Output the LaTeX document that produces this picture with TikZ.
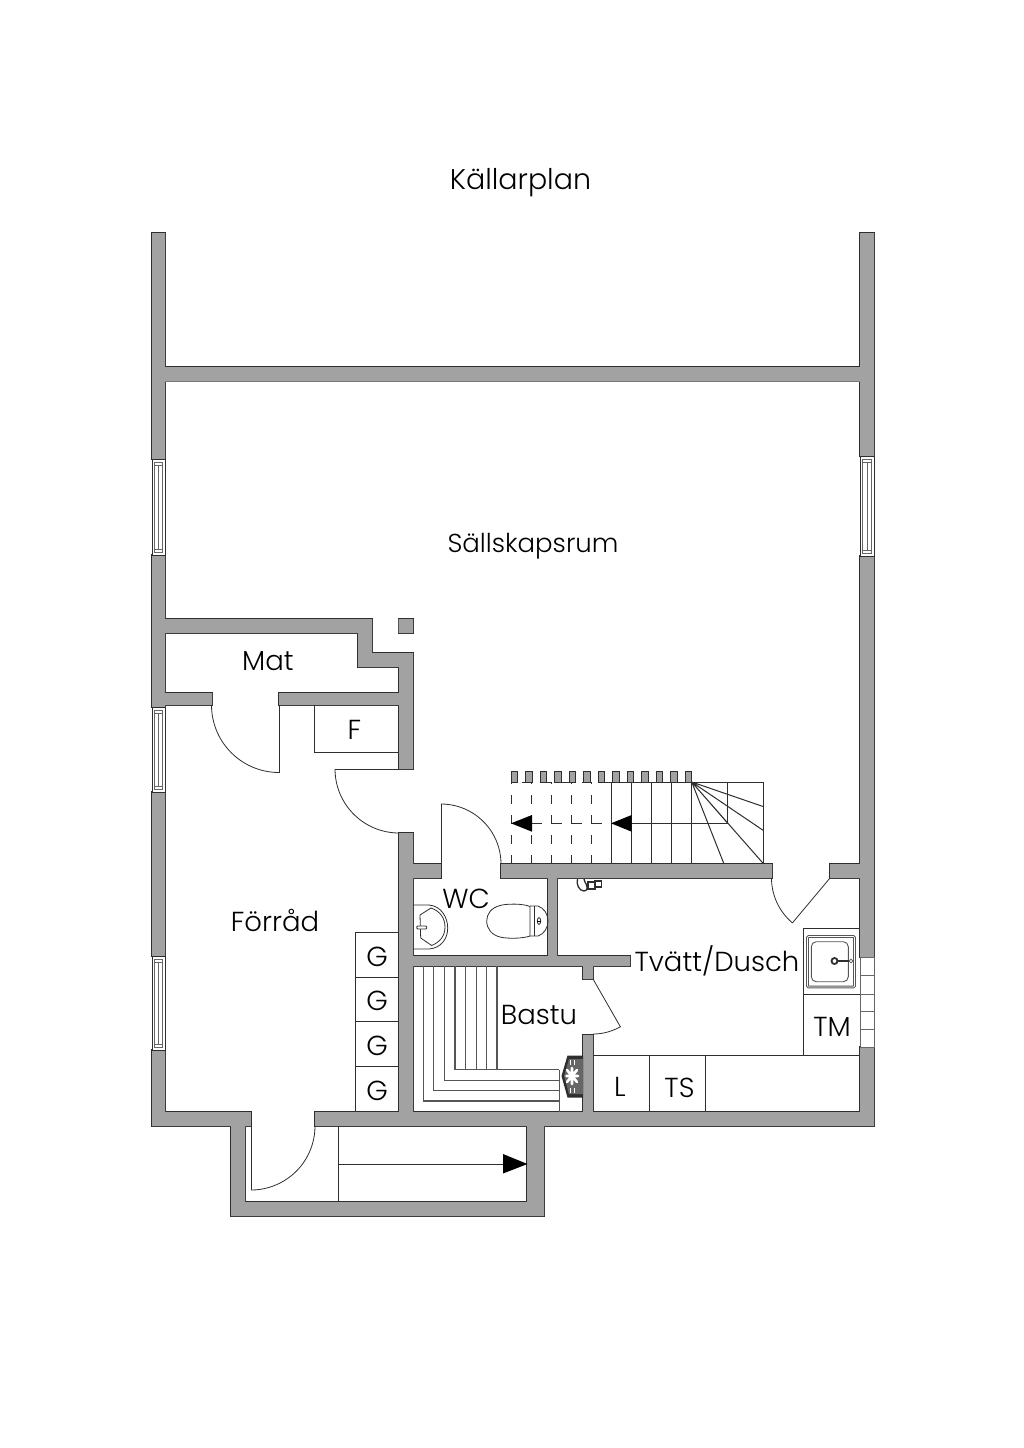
\documentclass[tikz,border=0pt]{standalone}
\usepackage{fontspec}
\setmainfont{Poppins Light}
\usepackage{tikz}

\definecolor{wallgray}{HTML}{A2A2A2}
\definecolor{linedark}{HTML}{2E2E2E}
\definecolor{benchgray}{HTML}{555555}

\tikzset{
    roomlabel/.style={font=\fontsize{27.5}{30}\selectfont,text=black,inner sep=0pt},
    plainline/.style={draw=linedark,line width=1pt},
    thinline/.style={draw=linedark,line width=0.8pt},
    paneline/.style={draw=black!60,line width=0.55pt},
    benchline/.style={draw=benchgray,line width=1.1pt},
}

\begin{document}
\begin{tikzpicture}[x=1pt,y=-1pt]
    %% Basement plan, coordinates in pixels of the page

    \useasboundingbox (0,0) rectangle (1024,1448);

    % Parameters
    \def\stairtop{782}
    \def\stairbot{864}
    \def\stairmid{823.3}
    \def\walls{
        (152,233) rectangle (165,459)
        (152,555) rectangle (165,707)
        (152,792) rectangle (165,956)
        (152,1050) rectangle (165,1126)
        (860,233) rectangle (874,456)
        (860,556) rectangle (874,957)
        (860,1047) rectangle (874,1126)
        (165,367) rectangle (860,381.5)
        (165,619) rectangle (372,633)
        (358,633) rectangle (372,667)
        (358,653) rectangle (413,667)
        (399,667) rectangle (413,769)
        (165,693) rectangle (212,705)
        (279,693) rectangle (399,705)
        (398.5,619) rectangle (413,633)
        (399,833) rectangle (413,1112)
        (413,864) rectangle (441,878)
        (501,864) rectangle (772,878)
        (830,864) rectangle (860,878)
        (548,878) rectangle (557,956)
        (413,956) rectangle (630,966)
        (583,966) rectangle (593,979)
        (583,1035) rectangle (593,1112)
        (152,1112) rectangle (251,1126)
        (315,1112) rectangle (874,1126)
        (231,1126) rectangle (245,1216)
        (245,1202) rectangle (544,1216)
        (527,1126) rectangle (544,1216)
    }
    % Door swing: centre x, centre y, radius, start angle, end angle
    \def\door#1#2#3#4#5{
        \draw[thinline,domain=#4:#5,smooth,samples=24,variable=\t]
        plot ({#1+#3*cos(\t)},{#2+#3*sin(\t)});
    }
    % Window: left x, right x, top y, bottom y
    \def\window#1#2#3#4{
        \draw[thinline,fill=white] (#1,#3) rectangle (#2,#4);
        \draw[paneline] ({#1+2.5},{#3+3}) rectangle ({#2-2.5},{#4-3});
        \draw[paneline] ({#1+2.5},{#3+6}) -- ({#2-2.5},{#3+6});
        \draw[paneline] ({#1+2.5},{#4-6}) -- ({#2-2.5},{#4-6});
        \draw[paneline] ({(#1+#2)/2},{#3+6}) -- ({(#1+#2)/2},{#4-6});
    }

    % Walls, stroke first so only the outer edge stays visible
    \draw[linedark,line width=1.6pt] \walls;
    \fill[wallgray] \walls;

    % Windows
    \window{152}{165}{459}{555}
    \window{152}{165}{707}{792}
    \window{152}{165}{956}{1050}
    \window{860}{874}{456}{556}

    % Narrow window by the laundry
    \draw[paneline,fill=white] (860,957.3) rectangle (874,1047.3);
    \draw[paneline]
    (860,975.7) -- (874,975.7)
    (860,994) -- (874,994)
    (860,1011.7) -- (874,1011.7)
    (860,1029.3) -- (874,1029.3);

    % Doors
    \draw[thinline] (279,705) -- (279,773);
    \door{279}{705}{67.5}{90}{180}
    \draw[thinline] (399,769) -- (335,769);
    \door{399}{769}{64}{90}{180}
    \draw[thinline] (441,878) -- (441,804);
    \door{441}{864}{60}{-90}{0}
    \draw[thinline] (251,1112) -- (251,1190);
    \door{251}{1126}{64}{0}{90}
    \draw[thinline] (830,878) -- (792.3,923);
    \door{830}{878}{58.5}{130}{180}
    \draw[thinline] (593,979) -- (620.5,1027);
    \door{593}{979}{55}{60}{90}

    % Cupboards along the walls
    \draw[plainline] (314.5,705) -- (314.5,752) -- (399,752);
    \draw[plainline]
    (399,932) -- (355,932) -- (355,1112)
    (355,977) -- (399,977)
    (355,1021.7) -- (399,1021.7)
    (355,1066.7) -- (399,1066.7);

    % Laundry fittings
    \draw[plainline]
    (593,1055) -- (860,1055)
    (649,1055) -- (649,1112)
    (705,1055) -- (705,1112)
    (803,1055) -- (803,928) -- (860,928)
    (803,994) -- (860,994);

    % Wash basin
    \draw[benchgray,line width=2.6pt,rounded corners=1pt] (807.5,936.5) rectangle (854.5,987);
    \draw[white,line width=0.7pt,rounded corners=1pt] (807.5,936.5) rectangle (854.5,987);
    \draw[benchgray,line width=0.9pt,rounded corners=5pt] (811.3,941.7) rectangle (848.3,981.7);
    \draw[linedark,line width=1.8pt] (834.5,961) circle (3);
    \draw[linedark,line width=1.6pt] (837.5,961) -- (849,961);
    \draw[benchgray,line width=0.7pt,fill=white] (851,961) circle (1.8);

    % Outer stairs
    \draw[plainline]
    (338,1126) -- (338,1202)
    (338,1164) -- (505,1164);
    \fill[black] (503,1154) -- (527.5,1164) -- (503,1173.5) -- cycle;

    % Stair posts
    \pgfmathsetmacro{\iter}{0}
    \loop
    \ifdim \iter pt < 13 pt
    \pgfmathsetmacro{\postx}{514.5+14.5*\iter}
    \draw[linedark,line width=0.7pt,fill=wallgray]
    ({\postx-3.2},771) rectangle ({\postx+3.2},\stairtop);
    \pgfmathsetmacro{\iter}{\iter+1}
    \repeat

    % Stair treads below the floor above
    \pgfmathsetmacro{\iter}{0}
    \loop
    \ifdim \iter pt < 5 pt
    \pgfmathsetmacro{\treadx}{511.5+20.05*\iter}
    \draw[plainline,dash pattern=on 9pt off 11pt] (\treadx,\stairbot) -- (\treadx,\stairtop);
    \pgfmathsetmacro{\iter}{\iter+1}
    \repeat

    % Stair treads in view
    \pgfmathsetmacro{\iter}{0}
    \loop
    \ifdim \iter pt < 5 pt
    \pgfmathsetmacro{\treadx}{611.7+20*\iter}
    \draw[plainline] (\treadx,\stairbot) -- (\treadx,\stairtop);
    \pgfmathsetmacro{\iter}{\iter+1}
    \repeat

    % Stair outline and winders
    \draw[plainline,dash pattern=on 10pt off 10pt] (611.7,\stairtop) -- (521.7,\stairtop);
    \draw[plainline]
    (611.7,\stairtop)
    -- (763.7,\stairtop)
    -- (763.7,\stairbot);
    \draw[plainline]
    (727.7,\stairtop)
    -- (727.7,\stairmid)
    -- (632,\stairmid);
    \draw[plainline,dash pattern=on 9.5pt off 10.5pt] (532,\stairmid) -- (611,\stairmid);
    \draw[plainline]
    (691.7,\stairtop) -- (763.7,806.7)
    (691.7,\stairtop) -- (763.7,830.7)
    (691.7,\stairtop) -- (763.7,\stairbot)
    (691.7,\stairtop) -- (724,\stairbot)
    (691.7,\stairtop) -- (727.7,\stairmid);
    \fill[black] (511,\stairmid) -- (532,815) -- (532,831.7) -- cycle;
    \fill[black] (611,\stairmid) -- (631.7,815) -- (631.7,831.7) -- cycle;

    % Sauna benches
    \draw[benchline]
    (423.3,966) -- (423.3,1101) -- (559.3,1101)
    (433.7,966) -- (433.7,1090.7) -- (559.3,1090.7)
    (444.3,966) -- (444.3,1080.3) -- (559.3,1080.3)
    (455,966) -- (455,1069.7) -- (559.3,1069.7)
    (465.7,966) -- (465.7,1069.7)
    (476.3,966) -- (476.3,1069.7)
    (486.7,966) -- (486.7,1069.7)
    (497,966) -- (497,1069.7)
    (559.3,1069.7) -- (559.3,1112);

    % Sauna stove
    \fill[linedark] (583,1055.5) -- (567.5,1055.5) -- (561.5,1076) -- (567.5,1097.5) -- (583,1097.5) -- cycle;
    \fill[black!60] (583,1059) -- (569,1059) -- (564,1076) -- (569,1094) -- (583,1094) -- cycle;
    \draw[white,line width=2.6pt,line cap=round]
    (566.5,1076) -- (578,1076)
    (572,1068) -- (572,1084)
    (567,1070) -- (577,1082)
    (567,1082) -- (577,1070);
    \draw[white,line width=1pt]
    (570,1060) -- (570,1065)
    (574.5,1060) -- (574.5,1065)
    (570,1088) -- (570,1093)
    (574.5,1088) -- (574.5,1093);

    % Fitting on the laundry wall
    \draw[linedark,line width=1.3pt,fill=white]
    (577.5,879) .. controls (576,884) and (579,891) .. (584,891)
    .. controls (589,891) and (587,885) .. (585,882) -- (584,879);
    \draw[linedark,line width=1.2pt,fill=white] (588,882) rectangle (595,889);
    \draw[linedark,line width=1.2pt,fill=white] (595,881) rectangle (601.5,887);

    % Toilet
    \draw[thinline] (530,906.5)
    .. controls (523,903.5) and (507,903.5) .. (500,905.5)
    .. controls (491,908) and (486.7,914) .. (486.7,921)
    .. controls (486.7,929) and (492,935) .. (500,937)
    .. controls (508,939) and (523,938.5) .. (530,936) -- cycle;
    \draw[thinline] (534,906) -- (534,936);
    \draw[thinline] (530,906) -- (538,906)
    .. controls (544,908) and (548,914) .. (548,921)
    .. controls (548,928) and (544,934) .. (538,936) -- (530,936);
    \draw[thinline] (539,921) ellipse (1.7 and 3.4);
    \draw[line width=0.5pt] (537.3,921) -- (540.7,921);

    % WC basin
    \draw[thinline]
    (413,905) -- (429,905)
    .. controls (441,906) and (447.7,917) .. (447.7,928)
    .. controls (447.7,939) and (441,948) .. (429,949)
    -- (413,949);
    \draw[thinline]
    (420,915) -- (431,908)
    .. controls (440,911) and (445,918) .. (445,927)
    .. controls (445,936) and (440,942) .. (431.7,945.5)
    -- (420.7,938) -- cycle;
    \draw[thinline,fill=white,rounded corners=1pt] (416.7,926) rectangle (426.7,929);

    % Labels
    \node[roomlabel,font=\fontsize{28.5}{30}\selectfont] (title) at (520.5,183) {Källarplan};
    \node[roomlabel,font=\fontsize{26}{30}\selectfont] (sallskapsrum) at (533,546) {Sällskapsrum};
    \node[roomlabel] (mat) at (268,661.5) {Mat};
    \node[roomlabel] (forrad) at (275,920) {Förråd};
    \node[roomlabel] (f) at (354.5,730) {F};
    \node[roomlabel] (wc) at (466,898.5) {WC};
    \node[roomlabel] (tvatt) at (717,961) {Tvätt/Dusch};
    \node[roomlabel] (bastu) at (539,1015) {Bastu};
    \node[roomlabel] (tm) at (832,1027) {TM};
    \node[roomlabel] (l) at (620,1087) {L};
    \node[roomlabel] (ts) at (679.5,1088) {TS};
    \node[roomlabel] (ga) at (377,956.5) {G};
    \node[roomlabel] (gb) at (377,1001) {G};
    \node[roomlabel] (gc) at (377,1046) {G};
    \node[roomlabel] (gd) at (377,1090.5) {G};

\end{tikzpicture}
\end{document}
